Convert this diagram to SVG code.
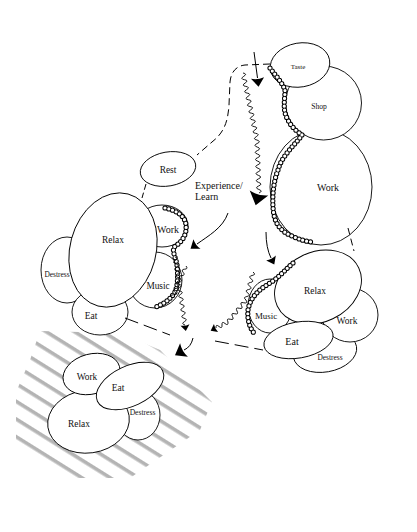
<svg xmlns="http://www.w3.org/2000/svg" width="417" height="532" viewBox="0 0 417 532">
<style>
.n ellipse{fill:#fff;stroke:#000;stroke-width:0.9}
.lbl{font-family:"Liberation Serif",serif;text-anchor:middle;fill:#111}
.st{text-anchor:start}
.dash{fill:none;stroke:#000;stroke-width:1}
.wave{fill:none;stroke:#000;stroke-width:0.9}
.ca{fill:none;stroke:#000;stroke-width:5.2;stroke-dasharray:0 3.9;stroke-linecap:round}
.cb{fill:none;stroke:#fff;stroke-width:3.2;stroke-dasharray:0 3.9;stroke-linecap:round}
.head{fill:#000}
</style>
<defs>
<pattern id="hatch" patternUnits="userSpaceOnUse" width="20" height="15" patternTransform="rotate(32)">
<rect x="0" y="0" width="20" height="3.6" fill="#b4b4b4"/>
</pattern>
<path id="ah" d="M8,0 L0,-6 Q2,0 0,6 Z"/>
</defs>
<rect width="417" height="532" fill="#fff"/>
<g id="hatching">
<polygon points="40,331 120,333 160,350 212,402 200,430 130,478 65,478 16,450 16,392 30,360" fill="url(#hatch)"/>
</g>

<g id="cluster-top-right">
<g id="tr-work" class="n"><ellipse cx="321" cy="187" rx="51" ry="58"/><text class="lbl" x="328" y="191" font-size="10">Work</text></g>
<g id="tr-shop" class="n"><ellipse cx="323.5" cy="103" rx="38" ry="37"/><text class="lbl" x="319" y="109" font-size="7.6">Shop</text></g>
<g id="tr-taste" class="n"><ellipse cx="300" cy="65" rx="30" ry="22" transform="rotate(-10 300 65)"/><text class="lbl" x="298" y="68.5" font-size="7">Taste</text></g>
</g>

<g id="cluster-right">
<g id="r-music" class="n"><ellipse cx="270" cy="306" rx="22" ry="27"/><text class="lbl" x="266" y="319" font-size="8.9">Music</text></g>
<g id="r-destress" class="n"><ellipse cx="325" cy="352" rx="32" ry="20" transform="rotate(-10 325 352)"/><text class="lbl" x="330" y="359.5" font-size="7.4">Destress</text></g>
<g id="r-work" class="n"><ellipse cx="350" cy="315" rx="28" ry="27"/><text class="lbl" x="347" y="324" font-size="9.5">Work</text></g>
<g id="r-relax" class="n"><ellipse cx="318" cy="287" rx="45" ry="35" transform="rotate(-25 318 287)"/><text class="lbl" x="315" y="293.5" font-size="9.4">Relax</text></g>
<g id="r-eat" class="n"><ellipse cx="298.5" cy="340" rx="35" ry="18" transform="rotate(-10 298.5 340)"/><text class="lbl" x="292" y="344.5" font-size="10">Eat</text></g>
</g>

<g id="rest" class="n"><ellipse cx="168" cy="169" rx="28" ry="17" transform="rotate(-10 168 169)"/><text class="lbl" x="168" y="172.5" font-size="9.4">Rest</text></g>

<g id="cluster-left">
<g id="l-music" class="n"><ellipse cx="155" cy="280" rx="27" ry="28"/><text class="lbl" x="158" y="288.5" font-size="9.3">Music</text></g>
<g id="l-work" class="n"><ellipse cx="162" cy="226" rx="26" ry="21"/><text class="lbl" x="168" y="232.5" font-size="10">Work</text></g>
<g id="l-destress" class="n"><ellipse cx="67" cy="270" rx="26" ry="33"/><text class="lbl" x="57" y="277" font-size="7.4">Destress</text></g>
<g id="l-eat" class="n"><ellipse cx="100" cy="312" rx="28" ry="23"/><text class="lbl" x="91" y="319" font-size="9.5">Eat</text></g>
<g id="l-relax" class="n"><ellipse cx="113" cy="250" rx="43" ry="58" transform="rotate(15 113 250)"/><text class="lbl" x="113" y="242.5" font-size="9.4">Relax</text></g>
</g>

<g id="cluster-bottom">
<g id="b-destress" class="n"><ellipse cx="138" cy="415" rx="22" ry="25"/><text class="lbl" x="142.5" y="414.5" font-size="7.6">Destress</text></g>
<g id="b-relax" class="n"><ellipse cx="88.5" cy="421.5" rx="41" ry="31.5" transform="rotate(-8 88.5 421.5)"/><text class="lbl" x="79" y="427" font-size="9.4">Relax</text></g>
<g id="b-work" class="n"><ellipse cx="91.5" cy="374" rx="29" ry="20" transform="rotate(-15 91.5 374)"/><text class="lbl" x="87" y="380" font-size="9.4">Work</text></g>
<g id="b-eat" class="n"><ellipse cx="130" cy="386" rx="36" ry="20" transform="rotate(-25 130 386)"/><text class="lbl" x="118" y="391" font-size="9.5">Eat</text></g>
</g>

<g id="experience-label">
<text class="lbl st" x="195" y="188.5" font-size="10">Experience/</text>
<text class="lbl st" x="195" y="200" font-size="10">Learn</text>
</g>

<g id="connectors">
<path class="dash" stroke-dasharray="7 4" d="M270,64 L245,65 C236,66 231,72 230,82 L229,105 C228,120 225,132 212,142 L197,155"/>
<path class="dash" stroke-dasharray="6 3" d="M146,184 L142,198"/>
<path class="dash" stroke-dasharray="7 4" d="M348,228 L354,251"/>
<path class="dash" stroke-dasharray="14 6" d="M125,318 L170,335"/>
<path class="dash" stroke-dasharray="14 6" d="M215,341 L263,350"/>

<path class="ca" d="M270,68 C275,75 282,82 285,90 C285,100 282,110 288,120 C292,128 298,132 302,135 C295,145 282,155 278,170 C272,185 272,205 274,215 C276,225 282,232 292,236 C300,240 308,242 314,242"/>
<path class="cb" d="M270,68 C275,75 282,82 285,90 C285,100 282,110 288,120 C292,128 298,132 302,135 C295,145 282,155 278,170 C272,185 272,205 274,215 C276,225 282,232 292,236 C300,240 308,242 314,242"/>
<path class="ca" d="M293,263 C285,270 278,278 270,283 C258,290 250,298 248,310 C247,320 250,328 254,333"/>
<path class="cb" d="M293,263 C285,270 278,278 270,283 C258,290 250,298 248,310 C247,320 250,328 254,333"/>
<path class="ca" d="M165,208 C175,210 185,215 186,225 C187,235 182,242 174,247 C172,252 176,258 177,265 C178,275 178,285 175,292 C170,300 163,304 156,307"/>
<path class="cb" d="M165,208 C175,210 185,215 186,225 C187,235 182,242 174,247 C172,252 176,258 177,265 C178,275 178,285 175,292 C170,300 163,304 156,307"/>

<path class="wave" d="M243,73 q4.76,0.755 0.7,3.35 t0.7,3.35 t0.7,3.35 t0.7,3.35 t0.7,3.35 t0.7,3.35 t0.7,3.35 t0.7,3.35 t0.7,3.35 t0.7,3.35 t0.7,3.35 t0.7,3.35 t0.7,3.35 t0.7,3.35 t0.7,3.35 t0.7,3.35 t0.7,3.35 t0.7,3.35 t0.7,3.35 t0.7,3.35 q4.56,1.6 0.1333,3.533 t0.1333,3.533 t0.1333,3.533 t0.1333,3.533 t0.1333,3.533 t0.1333,3.533 t0.1333,3.533 t0.1333,3.533 t0.1333,3.533 t0.1333,3.533 t0.1333,3.533 t0.1333,3.533 t0.1333,3.533 t0.1333,3.533 t0.1333,3.533"/>
<path class="wave" d="M175,257 q4.21,1.12 0.5,3.4 t0.5,3.4 t0.5,3.4 t0.5,3.4 t0.5,3.4 t0.5,3.4 t0.5,3.4 t0.5,3.4 t0.5,3.4 t0.5,3.4 t0.5,3.4 t0.5,3.4 t0.5,3.4 t0.5,3.4 t0.5,3.4 t0.5,3.4 t0.5,3.4 t0.5,3.4 t0.5,3.4 t0.5,3.4"/>
<path class="wave" d="M186,266 q2.51,3 -1.4,3.2 t-1.4,3.2 t-1.4,3.2 t-1.4,3.2 t-1.4,3.2 t-1.4,3.2 t-1.4,3.2 t-1.4,3.2 t-1.4,3.2 t-1.4,3.2"/>
<path class="wave" d="M253,272 q3.44,2.71 -0.875,3.5 t-0.875,3.5 t-0.875,3.5 t-0.875,3.5 t-0.875,3.5 t-0.875,3.5 t-0.875,3.5 t-0.875,3.5 q1.97,3.91 -2.25,2.75 t-2.25,2.75 t-2.25,2.75 t-2.25,2.75 t-2.25,2.75 t-2.25,2.75 t-2.25,2.75 t-2.25,2.75 q0.29,4.33 -3,1.5 t-3,1.5 t-3,1.5 t-3,1.5"/>

<path class="dash" d="M254,52 L257.5,78"/>
<path class="dash" d="M228,213 C223,228 208,236 197,244"/>
<path class="dash" d="M266,232 Q266,248 271,258"/>
<path class="dash" d="M193,338 Q191,347 184,350"/>

<use href="#ah" class="head" transform="translate(257.5,78) rotate(83) scale(1.1)"/>
<use href="#ah" class="head" transform="translate(259,193) rotate(105) scale(1.6)"/>
<use href="#ah" class="head" transform="translate(197,244) rotate(144)"/>
<use href="#ah" class="head" transform="translate(185,325) rotate(82) scale(0.75)"/>
<use href="#ah" class="head" transform="translate(271,258) rotate(63) scale(0.9)"/>
<use href="#ah" class="head" transform="translate(216,328) rotate(153) scale(0.75)"/>
<use href="#ah" class="head" transform="translate(184,350) rotate(150) scale(1.3)"/>
</g>
</svg>
